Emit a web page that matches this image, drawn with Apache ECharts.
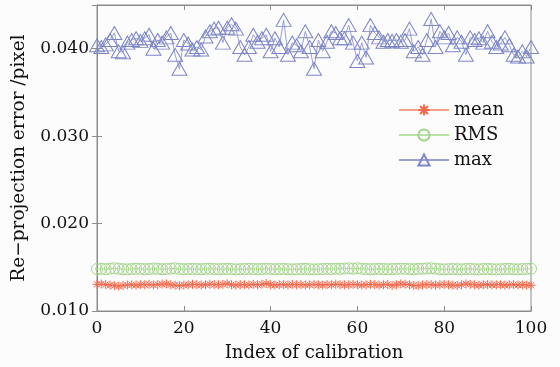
<!DOCTYPE html>
<html>
<head>
<meta charset="utf-8">
<script src="https://cdn.jsdelivr.net/npm/echarts@6/dist/echarts.min.js"></script>
<style>html,body{margin:0;padding:0;background:#fcfcfc;}#c{width:560px;height:367px;}</style>
</head>
<body>
<div id="c"></div>
<script>
const seriesNames = ['mean', 'RMS', 'max'];
const xTicks = [0, 20, 40, 60, 80, 100];
const yTicks = [0.010, 0.020, 0.030, 0.040];

const meanValues = [
  0.01305, 0.01308, 0.01302, 0.01296, 0.01290, 0.01285, 0.01292, 0.01298, 0.01300, 0.01296,
  0.01302, 0.01300, 0.01305, 0.01298, 0.01302, 0.01308, 0.01310, 0.01300, 0.01295, 0.01290,
  0.01296, 0.01300, 0.01305, 0.01302, 0.01298, 0.01300, 0.01306, 0.01302, 0.01300, 0.01304,
  0.01312, 0.01300, 0.01296, 0.01302, 0.01300, 0.01298, 0.01304, 0.01300, 0.01306, 0.01315,
  0.01300, 0.01296, 0.01300, 0.01302, 0.01298, 0.01304, 0.01300, 0.01302, 0.01298, 0.01300,
  0.01304, 0.01300, 0.01296, 0.01302, 0.01300, 0.01306, 0.01302, 0.01298, 0.01300, 0.01304,
  0.01300, 0.01296, 0.01300, 0.01304, 0.01302, 0.01296, 0.01300, 0.01304, 0.01290, 0.01300,
  0.01310, 0.01306, 0.01300, 0.01292, 0.01290, 0.01298, 0.01302, 0.01300, 0.01296, 0.01300,
  0.01304, 0.01300, 0.01296, 0.01292, 0.01300, 0.01310, 0.01304, 0.01300, 0.01296, 0.01300,
  0.01302, 0.01298, 0.01300, 0.01302, 0.01296, 0.01300, 0.01302, 0.01298, 0.01300, 0.01296,
  0.01294
];

const rmsValues = [
  0.01480, 0.01482, 0.01478, 0.01485, 0.01488, 0.01484, 0.01478, 0.01476, 0.01480, 0.01484,
  0.01482, 0.01478, 0.01480, 0.01486, 0.01482, 0.01478, 0.01480, 0.01484, 0.01488, 0.01482,
  0.01478, 0.01480, 0.01482, 0.01480, 0.01478, 0.01482, 0.01484, 0.01480, 0.01478, 0.01480,
  0.01482, 0.01480, 0.01476, 0.01478, 0.01480, 0.01482, 0.01480, 0.01478, 0.01480, 0.01484,
  0.01480, 0.01478, 0.01480, 0.01482, 0.01478, 0.01476, 0.01478, 0.01480, 0.01482, 0.01478,
  0.01476, 0.01478, 0.01480, 0.01482, 0.01480, 0.01484, 0.01482, 0.01486, 0.01488, 0.01484,
  0.01488, 0.01484, 0.01480, 0.01478, 0.01480, 0.01482, 0.01480, 0.01478, 0.01480, 0.01482,
  0.01484, 0.01482, 0.01480, 0.01478, 0.01482, 0.01484, 0.01486, 0.01488, 0.01484, 0.01478,
  0.01476, 0.01478, 0.01480, 0.01478, 0.01476, 0.01480, 0.01482, 0.01478, 0.01476, 0.01480,
  0.01482, 0.01478, 0.01476, 0.01478, 0.01480, 0.01482, 0.01478, 0.01476, 0.01480, 0.01482,
  0.01484
];

const maxValues = [
  0.0404, 0.0402, 0.0405, 0.0410, 0.0418, 0.0397, 0.0396, 0.0407, 0.0410, 0.0412,
  0.0409, 0.0412, 0.0416, 0.0400, 0.0410, 0.0407, 0.0413, 0.0418, 0.0393, 0.0377,
  0.0410, 0.0406, 0.0399, 0.0402, 0.0399, 0.0414, 0.0420, 0.0423, 0.0424, 0.0407,
  0.0424, 0.0428, 0.0423, 0.0402, 0.0393, 0.0402, 0.0416, 0.0408, 0.0412, 0.0416,
  0.0397, 0.0412, 0.0402, 0.0433, 0.0393, 0.0407, 0.0404, 0.0397, 0.0420, 0.0402,
  0.0377, 0.0410, 0.0397, 0.0408, 0.0420, 0.0418, 0.0412, 0.0412, 0.0427, 0.0407,
  0.0386, 0.0407, 0.0390, 0.0427, 0.0418, 0.0413, 0.0408, 0.0410, 0.0409, 0.0410,
  0.0408, 0.0410, 0.0423, 0.0397, 0.0402, 0.0393, 0.0410, 0.0434, 0.0402, 0.0420,
  0.0413, 0.0418, 0.0404, 0.0413, 0.0408, 0.0393, 0.0413, 0.0410, 0.0412, 0.0407,
  0.0420, 0.0408, 0.0402, 0.0406, 0.0413, 0.0404, 0.0393, 0.0391, 0.0397, 0.0391,
  0.0402
];

const toPairs = arr => arr.map((v, i) => [i, v]);
const FONT = 'DejaVu Serif';
const axisGrey = '#8c8c8c';
const asterisk = 'path://M10,0 L10,20 M0,10 L20,10 M3,3 L17,17 M3,17 L17,3';

const chart = echarts.init(document.getElementById('c'), null, {renderer: 'canvas'});
chart.setOption({
  backgroundColor: '#fcfcfc',
  animation: false,
  grid: {left: 97, right: 29, top: 5, bottom: 54, show: true, borderColor: axisGrey, borderWidth: 1},
  legend: {
    orient: 'vertical', left: 393, top: 96,
    itemWidth: 50, itemHeight: 14, itemGap: 7,
    data: seriesNames,
    textStyle: {fontFamily: FONT, fontSize: 18, color: '#111'}
  },
  xAxis: [{
    type: 'value', min: xTicks[0], max: xTicks[xTicks.length - 1], interval: 20,
    name: 'Index of calibration', nameLocation: 'middle', nameGap: 33,
    nameTextStyle: {fontFamily: FONT, fontSize: 18, color: '#111'},
    axisLine: {show: true, lineStyle: {color: axisGrey}},
    axisTick: {show: true, inside: true, length: 5, lineStyle: {color: axisGrey}},
    axisLabel: {fontFamily: FONT, fontSize: 17, color: '#111', margin: 9},
    splitLine: {show: false}
  }, {
    type: 'value', position: 'top', min: xTicks[0], max: xTicks[xTicks.length - 1], interval: 20,
    axisLine: {show: true, lineStyle: {color: axisGrey}},
    axisTick: {show: true, inside: true, length: 5, lineStyle: {color: axisGrey}},
    axisLabel: {show: false}, splitLine: {show: false}
  }],
  yAxis: [{
    type: 'value', min: 0.010, max: 0.045, interval: 0.010,
    name: 'Re\u2212projection error /pixel', nameLocation: 'middle', nameGap: 68,
    nameTextStyle: {fontFamily: FONT, fontSize: 18.5, color: '#111'},
    axisLine: {show: true, lineStyle: {color: axisGrey}},
    axisTick: {show: true, inside: true, length: 5, lineStyle: {color: axisGrey}},
    axisLabel: {
      fontFamily: FONT, fontSize: 17, color: '#111', margin: 8,
      formatter: v => yTicks.some(t => Math.abs(t - v) < 1e-9) ? v.toFixed(3) : ''
    },
    splitLine: {show: false}
  }, {
    type: 'value', position: 'right', min: 0.010, max: 0.045, interval: 0.010,
    axisLine: {show: true, lineStyle: {color: axisGrey}},
    axisTick: {show: true, inside: true, length: 5, lineStyle: {color: axisGrey}},
    axisLabel: {show: false}, splitLine: {show: false}
  }],
  series: [{
    name: 'mean', type: 'line', data: toPairs(meanValues),
    symbol: asterisk, symbolSize: 9, showAllSymbol: true,
    lineStyle: {color: '#f7a08c', width: 1},
    itemStyle: {color: 'none', borderColor: '#f26a4e', borderWidth: 1},
    color: '#f26a4e'
  }, {
    name: 'RMS', type: 'line', data: toPairs(rmsValues),
    symbol: 'circle', symbolSize: 11, showAllSymbol: true,
    lineStyle: {color: '#b9e0a4', width: 1},
    itemStyle: {color: 'none', borderColor: '#a3d48a', borderWidth: 1},
    color: '#a3d48a'
  }, {
    name: 'max', type: 'line', data: toPairs(maxValues),
    symbol: 'triangle', symbolSize: [15, 13], showAllSymbol: true,
    lineStyle: {color: '#9aa0d4', width: 1},
    itemStyle: {color: 'none', borderColor: '#7d85c6', borderWidth: 1},
    color: '#7d85c6'
  }]
});
</script>
</body>
</html>
